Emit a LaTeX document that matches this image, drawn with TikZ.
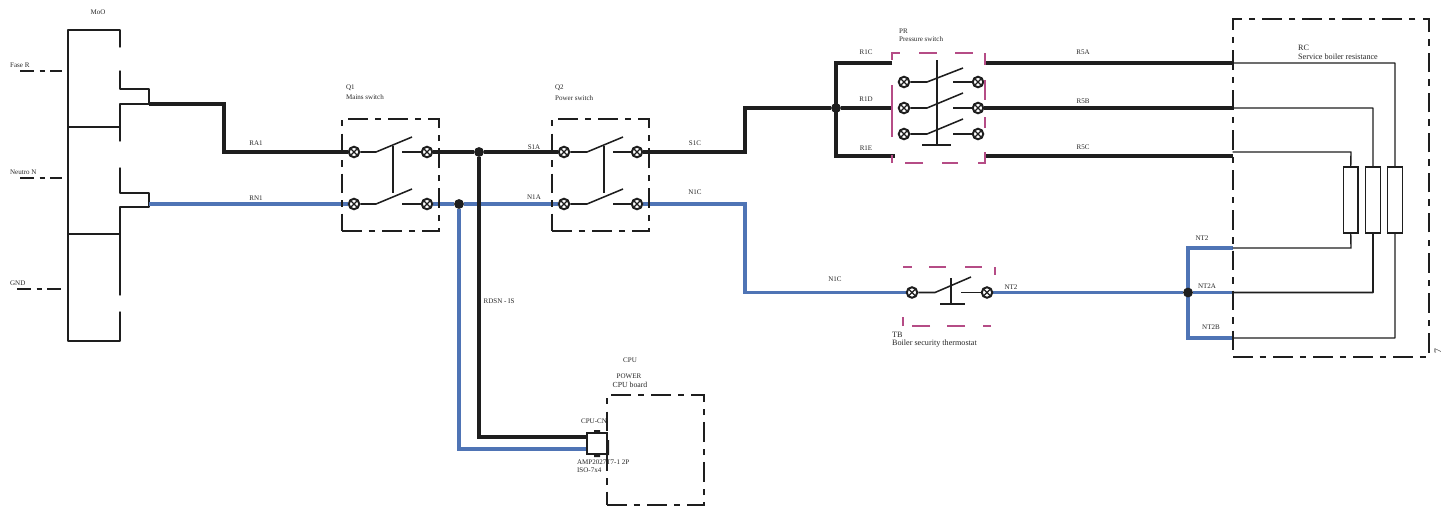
\documentclass[tikz,border=0pt]{standalone}
\usepackage{fontspec}
\setmainfont{Liberation Serif}
\usetikzlibrary{fit,backgrounds}
\definecolor{wireblue}{HTML}{4F74B5}
\definecolor{wireblack}{HTML}{1E1E1E}
\definecolor{pinkdash}{HTML}{B54C86}
\tikzset{
 thinw/.style={draw=wireblack,line width=2pt,line cap=round,line join=round},
 contact/.style={draw=wireblack,line width=2.2pt},
 blackw/.style={draw=wireblack,line width=4.4pt,line join=miter},
 bluew/.style={draw=wireblue,line width=4.4pt,line join=miter},
 dashbox/.style={draw=wireblack,line width=2.2pt,inner sep=0pt,dash pattern=on 28pt off 10pt on 9pt off 10pt},
 pinkframe/.style={inner sep=0pt},
 pinkline/.style={draw=pinkdash,line width=2.4pt},
 term/.style={circle,draw=wireblack,line width=2.8pt,fill=white,minimum size=15pt,inner sep=0pt,
   path picture={\draw[wireblack,line width=1.8pt] (path picture bounding box.north west)--(path picture bounding box.south east)
   (path picture bounding box.north east)--(path picture bounding box.south west);}},
 junction/.style={circle,fill=wireblack,minimum size=14pt,inner sep=0pt},
 lbl/.style={inner sep=0pt,font=\fontsize{10}{11}\selectfont,text=black!85},
 lbll/.style={lbl,anchor=west},
 biglbl/.style={lbll,font=\fontsize{11.6}{12}\selectfont},
 dashlead/.style={draw=wireblack,line width=2pt,dash pattern=on 20pt off 8pt on 7pt off 8pt},
 resistor/.style={draw=wireblack,line width=2.2pt,fill=white,inner sep=0pt},
}
\begin{document}
\begin{tikzpicture}[x=0.05cm,y=-0.05cm]
\useasboundingbox (0,0) rectangle (1448,512);
% terminals
\node[term] (q1a) at (354,152) {};
\node[term] (q1b) at (427,152) {};
\node[term] (q1c) at (354,204) {};
\node[term] (q1d) at (427,204) {};
\node[term] (q2a) at (564,152) {};
\node[term] (q2b) at (637,152) {};
\node[term] (q2c) at (564,204) {};
\node[term] (q2d) at (637,204) {};
\node[term] (pa) at (904,82) {};
\node[term] (pb) at (904,108) {};
\node[term] (pc) at (904,134) {};
\node[term] (pd) at (978,82) {};
\node[term] (pe) at (978,108) {};
\node[term] (pf) at (978,134) {};
\node[term] (ta) at (912,292.5) {};
\node[term] (tb) at (987,292.5) {};
% junctions
\node[junction] (j1) at (479,152) {};
\node[junction] (j2) at (459,204) {};
\node[junction] (j3) at (836,108) {};
\node[junction] (j4) at (1188,292.5) {};
% boxes
\node[dashbox,fit={(342,119) (439,231)}] (Q1) {};
\node[dashbox,fit={(552,119) (649,231)}] (Q2) {};
\node[dashbox,fit={(1233,19) (1429,357)}] (RCB) {};
\node[dashbox,fit={(607,395) (704,505)}] (CPU) {};
% pink dashed frames, drawn segment by segment
\draw[pinkline] (892,60) -- (892,53) -- (900,53) (919,53) -- (937,53) (955,53) -- (973,53)
  (985,65) -- (985,53) (985,80) -- (985,100) (985,117) -- (985,128) (985,152) -- (985,163) -- (978,163)
  (958,163) -- (942,163) (923,163) -- (905,163) (892,163) -- (892,155) (892,137) -- (892,85);
\draw[pinkline] (903,267) -- (912,267) (929,267) -- (946,267) (965,267) -- (982,267)
  (995,267) -- (995,275) (991,326) -- (983,326) (965,326) -- (947,326) (930,326) -- (912,326)
  (903,326) -- (903,317);
% resistors
\node[resistor,fit={(1343.5,167) (1358,233)}] (r1) {};
\node[resistor,fit={(1365.5,167) (1380.5,233)}] (r2) {};
\node[resistor,fit={(1387.5,167) (1402.5,233)}] (r3) {};
% connector
\node[draw=wireblack,line width=2.8pt,fill=white,inner sep=0pt,fit={(587,433) (607,454)}] (conn) {};
\fill[wireblack] (594,430) rectangle (600,433) (594,454) rectangle (600,457) (606,440) rectangle (609,455);
% coordinates
\coordinate (m1) at (149,104);
\coordinate (m2) at (224,104);
\coordinate (m3) at (224,152);
\coordinate (n1) at (149,204);
\coordinate (c1) at (745,152);
\coordinate (c2) at (745,108);
\coordinate (c3) at (745,204);
\coordinate (c4) at (745,292.5);
\coordinate (u1) at (836,63);
\coordinate (u2) at (836,156);
\coordinate (ue1) at (892,63);
\coordinate (ue2) at (892,108);
\coordinate (ue3) at (895,156);
\coordinate (re1) at (986,63);
\coordinate (re3) at (986,156);
\coordinate (b1) at (1233,63);
\coordinate (b2) at (1233,108);
\coordinate (b3) at (1233,156);
\coordinate (v1) at (1188,248);
\coordinate (v2) at (1188,338);
\coordinate (w1) at (1233,248);
\coordinate (w2) at (1233,292.5);
\coordinate (w3) at (1233,338);
\coordinate (k1) at (479,437);
\coordinate (k2) at (459,449);
\coordinate (k3) at (587,437);
\coordinate (k4) at (587,449);
\begin{scope}[on background layer]
% MoO bracket
\draw[thinw] (120,47) -- (120,30) -- (68,30) -- (68,341) -- (120,341) -- (120,312);
\draw[thinw] (120,71) -- (120,89) -- (149,89) -- (m1) -- (120,104) -- (120,141);
\draw[thinw] (68,127) -- (120,127);
\draw[thinw] (120,168) -- (120,193) -- (149,193) -- (n1) -- (149,207) -- (120,207) -- (120,295);
\draw[thinw] (68,234) -- (120,234);
\draw[dashlead] (20,71) -- (62,71);
\draw[dashlead] (20,178) -- (62,178);
\draw[dashlead,line width=3pt] (17,289) -- (65,289);
% main wires
\draw[blackw] (m1) -- (m2) -- (m3) -- (q1a);
\draw[bluew] (n1) -- (q1c);
\draw[blackw] (q1b) -- (j1) -- (q2a);
\draw[bluew] (q1d) -- (j2) -- (q2c);
\draw[blackw] (j1) -- (k1) -- (k3);
\draw[bluew] (j2) -- (k2) -- (k4);
\draw[blackw] (q2b) -- (c1) -- (c2) -- (j3);
\draw[bluew] (q2d) -- (c3) -- (c4) -- (ta);
\draw[blackw] (ue1) -- (u1) -- (u2) -- (ue3);
\draw[blackw] (j3) -- (ue2);
\draw[blackw] (re1) -- (b1);
\draw[blackw] (pe) -- (b2);
\draw[blackw] (re3) -- (b3);
\draw[bluew] (tb) -- (j4) -- (w2);
\draw[bluew] (w1) -- (v1) -- (v2) -- (w3);
% resistor wires
\draw[thinw] (b1) -- (1395,63) -- (r3.north);
\draw[thinw] (b2) -- (1373,108) -- (r2.north);
\draw[thinw] (1233,152) -- (1351,152) -- (r1.north);
\draw[thinw] (r1.south) -- (1351,248) -- (w1);
\draw[thinw,line width=2.6pt] (r2.south) -- (1373,292.5) -- (w2);
\draw[thinw] (r3.south) -- (1395,338) -- (w3);
\end{scope}
% switch contacts
\draw[contact] (q1a) -- (376,152) -- (412,137);
\draw[contact] (402,152) -- (q1b);
\draw[contact] (q1c) -- (376,204) -- (412,189);
\draw[contact] (402,204) -- (q1d);
\draw[contact] (393,146) -- (393,193);
\draw[contact] (q2a) -- (587,152) -- (623,137);
\draw[contact] (613,152) -- (q2b);
\draw[contact] (q2c) -- (587,204) -- (623,189);
\draw[contact] (613,204) -- (q2d);
\draw[contact] (604,146) -- (604,193);
\draw[contact] (pa) -- (927,82) -- (963,68);
\draw[contact] (953,82) -- (pd);
\draw[contact] (pb) -- (927,108) -- (963,93);
\draw[contact] (953,108) -- (pe);
\draw[contact] (pc) -- (927,134) -- (963,119);
\draw[contact] (953,134) -- (pf);
\draw[contact] (937,60) -- (937,145);
\draw[contact] (922,145) -- (951,145);
\draw[contact] (ta) -- (935,292.5) -- (971,277);
\draw[contact] (961,292.5) -- (tb);
\draw[contact] (951,278) -- (951,304);
\draw[contact] (940,304) -- (965,304);
% labels
\node[lbl] (l1) at (98,12) {MoO};
\node[lbll] (l2) at (10,65) {Fase R};
\node[lbll] (l3) at (10,172) {Neutro N};
\node[lbll] (l4) at (10,283) {GND};
\node[lbl] (l5) at (256,143) {RA1};
\node[lbl] (l6) at (256,198) {RN1};
\node[lbll] (l7) at (346,88) {Q1};
\node[lbll] (l8) at (346,97) {Mains switch};
\node[lbll] (l9) at (555,88) {Q2};
\node[lbll] (l10) at (555,98) {Power switch};
\node[lbl] (l11) at (534,147) {S1A};
\node[lbl] (l12) at (534,197) {N1A};
\node[lbl] (l13) at (695,143) {S1C};
\node[lbl] (l14) at (695,192) {N1C};
\node[lbl] (l15) at (835,279) {N1C};
\node[lbl] (l16) at (499,301) {RDSN - IS};
\node[lbl] (l17) at (866,52) {R1C};
\node[lbl] (l18) at (866,99) {R1D};
\node[lbl] (l19) at (866,148) {R1E};
\node[lbll] (l20) at (899,31) {PR};
\node[lbll] (l21) at (899,39) {Pressure switch};
\node[lbl] (l22) at (1083,52) {R5A};
\node[lbl] (l23) at (1083,101) {R5B};
\node[lbl] (l24) at (1083,147) {R5C};
\node[biglbl] (l25) at (1298,48) {RC};
\node[biglbl] (l26) at (1298,57) {Service boiler resistance};
\node[lbl] (l27) at (1202,238) {NT2};
\node[lbl] (l28) at (1207,286) {NT2A};
\node[lbl] (l29) at (1211,327) {NT2B};
\node[lbl] (l30) at (1011,287) {NT2};
\node[biglbl] (l31) at (892,335) {TB};
\node[biglbl] (l32) at (892,344) {Boiler security thermostat};
\node[lbl,rotate=90,font=\fontsize{14}{14}\selectfont] (l33) at (1438,351) {7};
\node[lbl] (l34) at (630,360) {CPU};
\node[lbl] (l35) at (629,376) {POWER};
\node[lbl,font=\fontsize{11}{12}\selectfont] (l36) at (630,385) {CPU board};
\node[lbl] (l37) at (594,421) {CPU-CN};
\node[lbll] (l38) at (577,462) {AMP2027T7-1 2P};
\node[lbll] (l39) at (577,470) {ISO-7x4};
\end{tikzpicture}
\end{document}
